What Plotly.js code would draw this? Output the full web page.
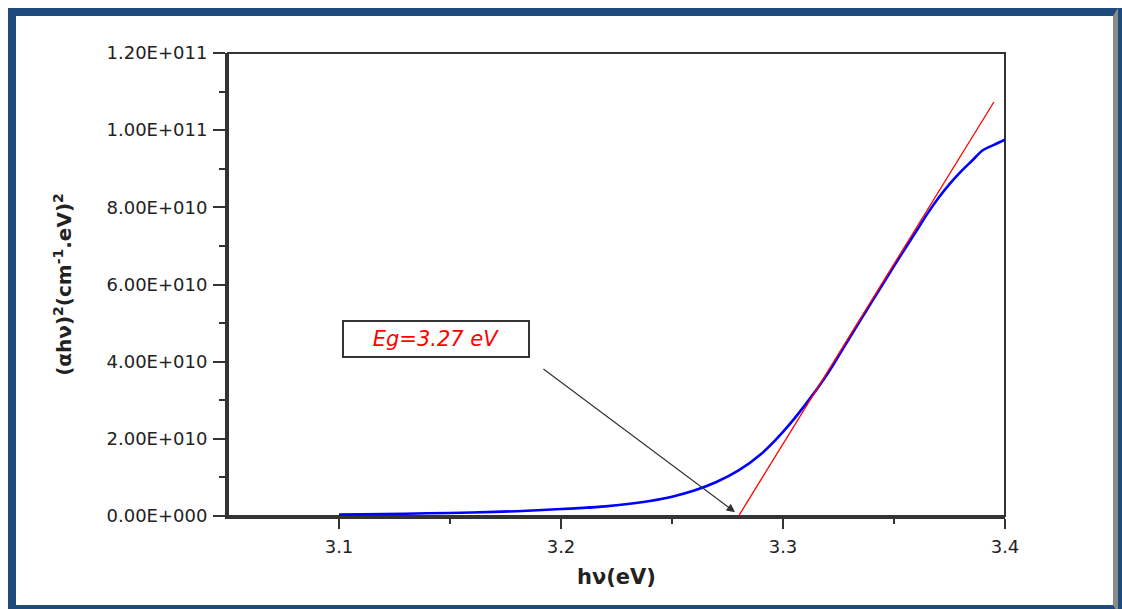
<!DOCTYPE html>
<html>
<head>
<meta charset="utf-8">
<script src="https://cdn.plot.ly/plotly-3.0.1.min.js"></script>
<style>
  html, body { margin: 0; padding: 0; background: #ffffff; width: 1122px; height: 609px; overflow: hidden; }
  #frame { position: absolute; left: 8px; top: 8px; width: 1110px; height: 605px; box-sizing: border-box;
           border-left: 8px solid #1F4A7C; border-top: 8px solid #1F4A7C; border-bottom: 8px solid #1F4A7C;
           border-right: 5px solid #8a8a8a; }
  #frameR { position: absolute; left: 1118px; top: 8px; width: 4px; height: 605px; background: #1F4A7C; }
  #chart { position: absolute; left: 0; top: 0; width: 1122px; height: 609px; }
</style>
</head>
<body>
<div id="frame"></div>
<div id="frameR"></div>
<div id="chart"></div>
<script>
// Measured absorption data: photon energy (eV) vs (αhν)^2
const hv = [3.10, 3.12, 3.14, 3.16, 3.18, 3.20, 3.21, 3.22, 3.23, 3.24, 3.25, 3.26, 3.27, 3.28, 3.29, 3.30, 3.31, 3.32, 3.33, 3.34, 3.35, 3.36, 3.365, 3.37, 3.375, 3.38, 3.385, 3.39, 3.395, 3.40];
const ahv2 = [4.0e8, 5.0e8, 7.0e8, 9.0e8, 1.25e9, 1.8e9, 2.1e9, 2.5e9, 3.1e9, 3.9e9, 5.0e9, 6.6e9, 8.8e9, 1.18e10, 1.60e10, 2.18e10, 2.88e10, 3.68e10, 4.62e10, 5.55e10, 6.48e10, 7.38e10, 7.83e10, 8.24e10, 8.6e10, 8.92e10, 9.2e10, 9.48e10, 9.62e10, 9.75e10];

// Linear extrapolation (Tauc fit)
const fitX = [3.28, 3.395];
const fitY = [0, 1.073e11];

// Axis ticks
const yTickVals = [0, 2e10, 4e10, 6e10, 8e10, 1e11, 1.2e11];
const yTickText = ["0.00E+000", "2.00E+010", "4.00E+010", "6.00E+010", "8.00E+010", "1.00E+011", "1.20E+011"];
const yMinorVals = [1e10, 3e10, 5e10, 7e10, 9e10, 1.1e11];
const xTickVals = [3.1, 3.2, 3.3, 3.4];
const xTickText = ["3.1", "3.2", "3.3", "3.4"];
const xMinorVals = [3.15, 3.25, 3.35];

// Annotation
const egLabel = "Eg=3.27 eV";
const egBox = {x: 3.1437, y: 4.59e10};
const arrowTail = {x: 3.1914, y: 3.84e10};
const arrowHead = {x: 3.2784, y: 1.0e9};

const tickFont = {family: "DejaVu Sans, Arial, sans-serif", size: 18, color: "#222222"};

const traces = [
  {x: hv, y: ahv2, type: "scatter", mode: "lines",
   line: {color: "#0000FF", width: 2.6, shape: "spline", smoothing: 0.8}, hoverinfo: "skip"},
  {x: fitX, y: fitY, type: "scatter", mode: "lines",
   line: {color: "#FF0000", width: 1.3}, hoverinfo: "skip"}
];

const layout = {
  width: 1122, height: 609,
  margin: {l: 228, r: 117, t: 53, b: 93},
  paper_bgcolor: "rgba(0,0,0,0)",
  plot_bgcolor: "rgba(0,0,0,0)",
  showlegend: false,
  xaxis: {
    range: [3.05, 3.4], tickmode: "array", tickvals: xTickVals, ticktext: xTickText,
    ticks: "outside", ticklen: 10, tickwidth: 2, tickcolor: "#333333",
    minor: {tickmode: "array", tickvals: xMinorVals, ticks: "outside", ticklen: 5, tickwidth: 2, tickcolor: "#333333", showgrid: false},
    showline: true, linewidth: 3, linecolor: "#333333", showgrid: false, zeroline: false,
    tickfont: tickFont, ticklabelstandoff: 2,
    title: {text: "<b>hν(eV)</b>", font: {family: "DejaVu Sans, Arial, sans-serif", size: 21, color: "#222222"}, standoff: 14}
  },
  yaxis: {
    range: [0, 1.2e11], tickmode: "array", tickvals: yTickVals, ticktext: yTickText,
    ticks: "outside", ticklen: 12, tickwidth: 2, tickcolor: "#333333",
    minor: {tickmode: "array", tickvals: yMinorVals, ticks: "outside", ticklen: 6, tickwidth: 2, tickcolor: "#333333", showgrid: false},
    showline: true, linewidth: 3, linecolor: "#333333", showgrid: false, zeroline: false,
    tickfont: tickFont, ticklabelstandoff: 2,
    title: {text: "<b>(αhν)<sup>2</sup>(cm<sup>-1</sup>.eV)<sup>2</sup></b>", font: {family: "DejaVu Sans, Arial, sans-serif", size: 20, color: "#222222"}, standoff: 30}
  },
  shapes: [
    {type: "rect", xref: "paper", yref: "paper", x0: 0, x1: 1, y0: 0, y1: 1, line: {color: "#333333", width: 2}, layer: "below"}
  ],
  annotations: [
    {x: egBox.x, y: egBox.y, xref: "x", yref: "y", text: "<i>" + egLabel + "</i>", showarrow: false,
     font: {family: "DejaVu Sans, Arial, sans-serif", size: 21, color: "#FF0000"},
     bordercolor: "#333333", borderwidth: 2, borderpad: 2, bgcolor: "#ffffff",
     width: 180, height: 30, align: "center", valign: "middle"},
    {x: arrowHead.x, y: arrowHead.y, ax: arrowTail.x, ay: arrowTail.y, xref: "x", yref: "y", axref: "x", ayref: "y",
     text: "", showarrow: true, arrowhead: 2, arrowsize: 1.4, arrowwidth: 1.2, arrowcolor: "#333333", standoff: 0}
  ]
};

Plotly.newPlot("chart", traces, layout, {displayModeBar: false, staticPlot: true});
</script>
</body>
</html>
